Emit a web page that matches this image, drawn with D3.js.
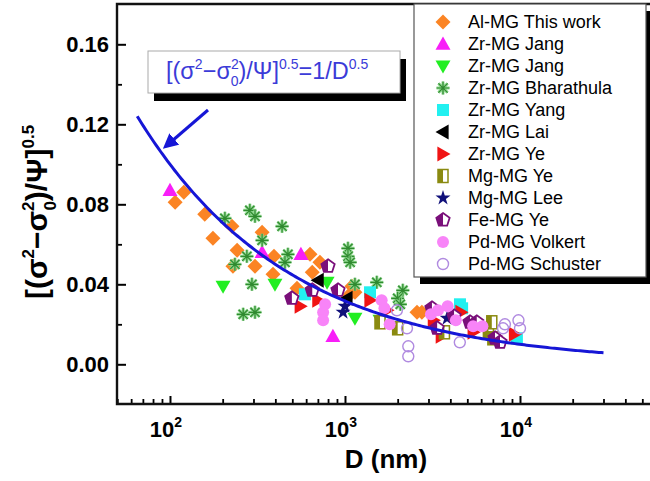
<!DOCTYPE html>
<html>
<head>
<meta charset="utf-8">
<script src="https://cdn.jsdelivr.net/npm/d3@7"></script>
<style>
  body { margin: 0; background: #fff; }
  svg { display: block; font-family: "Liberation Sans", Arial, sans-serif; }
</style>
</head>
<body>
<div id="chart"></div>
<script>
// ---- data: [D (nm), value] ----
const alThisWork = [[107,0.081],[120,0.086],[158,0.075],[176,0.063],[226,0.069],[336,0.066],[242,0.057],[229,0.049],[306,0.049],[393,0.054],[388,0.045],[532,0.038],[631,0.055],[719,0.051],[650,0.046],[1096,0.039],[1140,0.036],[1040,0.034],[2580,0.026],[2750,0.026]];
const zrJangUp = [[100,0.087],[336,0.056],[560,0.055],[853,0.014]];
const zrJangDown = [[201,0.039],[398,0.040],[790,0.041],[1140,0.023],[1585,0.022]];
const zrBharathula = [[206,0.073],[286,0.077],[306,0.074],[437,0.069],[336,0.062],[275,0.054],[235,0.050],[294,0.040],[262,0.025],[306,0.026],[472,0.055],[454,0.051],[1040,0.058],[1040,0.054],[1070,0.051],[1140,0.040],[1520,0.041],[2140,0.037],[2000,0.033],[2070,0.030]];
const zrYang = [[590,0.035],[1390,0.036],[4540,0.030],[4670,0.028],[9600,0.013]];
const zrLai = [[702,0.042],[1026,0.033]];
const zrYe = [[555,0.029],[700,0.032],[1390,0.032],[1740,0.027],[3200,0.022],[3550,0.014],[4600,0.026],[5400,0.016],[9300,0.015]];
const mgYe = [[1585,0.021],[2000,0.018],[3700,0.016],[6600,0.016],[6900,0.021],[7000,0.013]];
const mgLee = [[1000,0.029],[975,0.026],[3830,0.023]];
const feYe = [[497,0.033],[650,0.037],[800,0.049],[912,0.037],[3140,0.028],[3360,0.018],[4200,0.024],[5180,0.021],[5660,0.021],[7200,0.013],[7690,0.011]];
const pdVolkert = [[750,0.026],[750,0.022],[770,0.030],[1620,0.032],[1680,0.028],[1800,0.020],[3100,0.025],[3400,0.027],[3860,0.029],[4300,0.022],[5400,0.019],[6100,0.019]];
const pdSchuster = [[1980,0.027],[2260,0.018],[2300,0.009],[2300,0.004],[4530,0.011],[8000,0.018],[8200,0.020],[9800,0.022],[10000,0.018]];

const seriesNames = ["Al-MG This work","Zr-MG Jang","Zr-MG Jang","Zr-MG Bharathula","Zr-MG Yang","Zr-MG Lai","Zr-MG Ye","Mg-MG Ye","Mg-MG Lee","Fe-MG Ye","Pd-MG Volkert","Pd-MG Schuster"];
const seriesData = [alThisWork, zrJangUp, zrJangDown, zrBharathula, zrYang, zrLai, zrYe, mgYe, mgLee, feYe, pdVolkert, pdSchuster];
const yTicks = [0, 0.04, 0.08, 0.12, 0.16];
const yMinor = [0.02, 0.06, 0.10, 0.14];
const xMajor = [100, 1000, 10000];
const fitRange = [65, 30000]; // 1/D^0.5 curve

// ---- layout ----
const width = 650, height = 481;
const plotL = 117, plotT = 4, plotB = 404, plotR = 655;

const svg = d3.select("#chart").append("svg")
  .attr("width", width).attr("height", height);

const x = d3.scaleLog().domain([50, 1e5]).range([117.3, 695]);
const y = d3.scaleLinear().domain([-0.02, 0.18]).range([404.3, 4.3]);

// ---- markers ----
const styles = [
  {shape: "diamond", fill: "#fb8424"},
  {shape: "up", fill: "#f81ef8"},
  {shape: "down", fill: "#22ee22"},
  {shape: "asterisk", fill: "#2f8a2f"},
  {shape: "square", fill: "#22f0f0"},
  {shape: "left", fill: "#000000"},
  {shape: "right", fill: "#f01414"},
  {shape: "halfsquare", fill: "#8a8a10"},
  {shape: "star", fill: "#10107a"},
  {shape: "pentagon", fill: "#7a0f7a"},
  {shape: "circle", fill: "#f884f8"},
  {shape: "hollow", fill: "#b08ae0"}
];

function marker(g, st) {
  const r = 7.5;
  switch (st.shape) {
    case "diamond":
      g.append("path").attr("d", `M0,${-r}L${r},0L0,${r}L${-r},0Z`).attr("fill", st.fill); break;
    case "up":
      g.append("path").attr("d", `M0,${-r}L${r},${r*0.75}L${-r},${r*0.75}Z`).attr("fill", st.fill); break;
    case "down":
      g.append("path").attr("d", `M0,${r}L${r},${-r*0.75}L${-r},${-r*0.75}Z`).attr("fill", st.fill); break;
    case "left":
      g.append("path").attr("d", `M${-r},0L${r*0.75},${-r}L${r*0.75},${r}Z`).attr("fill", st.fill); break;
    case "right":
      g.append("path").attr("d", `M${r},0L${-r*0.75},${-r}L${-r*0.75},${r}Z`).attr("fill", st.fill); break;
    case "square":
      g.append("rect").attr("x", -6).attr("y", -6).attr("width", 12).attr("height", 12).attr("fill", st.fill); break;
    case "halfsquare":
      g.append("rect").attr("x", -5).attr("y", -6.5).attr("width", 10).attr("height", 13)
        .attr("fill", "#fff").attr("stroke", st.fill).attr("stroke-width", 1.5);
      g.append("rect").attr("x", -5).attr("y", -6.5).attr("width", 5).attr("height", 13).attr("fill", st.fill); break;
    case "star":
      g.append("path").attr("d", d3.symbol(d3.symbolStar, 70)()).attr("fill", st.fill); break;
    case "pentagon": {
      const p = d3.range(5).map(k => {
        const a = -Math.PI / 2 + k * 2 * Math.PI / 5;
        return [7 * Math.cos(a), 7 * Math.sin(a)];
      });
      g.append("path").attr("d", "M" + p.join("L") + "Z")
        .attr("fill", "#fff").attr("stroke", st.fill).attr("stroke-width", 1.8);
      g.append("path").attr("d", `M0,${p[0][1]}L0,${p[3][1]}L${p[3][0]},${p[3][1]}L${p[4][0]},${p[4][1]}Z`)
        .attr("fill", st.fill);
      break;
    }
    case "asterisk": {
      const arms = [0, 45, 90, 135].map(a => {
        const c = Math.cos(a * Math.PI / 180) * 6.5, s = Math.sin(a * Math.PI / 180) * 6.5;
        return `M${-c},${-s}L${c},${s}`;
      }).join("");
      g.append("path").attr("d", arms).attr("stroke", "#8fd88f").attr("stroke-width", 3);
      g.append("path").attr("d", arms).attr("stroke", st.fill).attr("stroke-width", 1.2);
      break;
    }
    case "circle":
      g.append("circle").attr("r", 6).attr("fill", st.fill); break;
    case "hollow":
      g.append("circle").attr("r", 5.5).attr("fill", "none").attr("stroke", st.fill).attr("stroke-width", 1.4); break;
  }
}

// ---- data points ----
seriesData.forEach((pts, i) => {
  svg.append("g").selectAll("g")
    .data(pts)
    .join("g")
    .attr("transform", d => `translate(${x(d[0])},${y(d[1])})`)
    .each(function() { marker(d3.select(this), styles[i]); });
});

// ---- fit curve ----
const curvePts = d3.range(0, 201).map(i => {
  const lg = Math.log10(fitRange[0]) + i / 200 * (Math.log10(fitRange[1]) - Math.log10(fitRange[0]));
  return Math.pow(10, lg);
});
svg.append("path")
  .datum(curvePts)
  .attr("d", d3.line().x(d => x(d)).y(d => y(1 / Math.sqrt(d))))
  .attr("fill", "none")
  .attr("stroke", "#1616d6")
  .attr("stroke-width", 3);

// ---- axes (ticks inward) ----
const xMinorVals = [];
[10, 100, 1000, 10000].forEach(b => d3.range(2, 10).forEach(k => { if (b * k >= 50) xMinorVals.push(b * k); }));

svg.append("g").attr("transform", `translate(0,${plotB})`)
  .call(d3.axisBottom(x).tickValues(xMajor.concat([1e5])).tickSize(-8).tickSizeOuter(0).tickFormat(""))
  .call(g => g.select(".domain").remove())
  .call(g => g.selectAll("line").attr("stroke", "#000").attr("stroke-width", 2));
svg.append("g").attr("transform", `translate(0,${plotB})`)
  .call(d3.axisBottom(x).tickValues(xMinorVals).tickSize(-5).tickSizeOuter(0).tickFormat(""))
  .call(g => g.select(".domain").remove())
  .call(g => g.selectAll("line").attr("stroke", "#000").attr("stroke-width", 1.8));

svg.append("g").attr("transform", `translate(${plotL},0)`)
  .call(d3.axisLeft(y).tickValues(yTicks).tickSize(-9).tickSizeOuter(0).tickFormat(""))
  .call(g => g.select(".domain").remove())
  .call(g => g.selectAll("line").attr("stroke", "#000").attr("stroke-width", 2));
svg.append("g").attr("transform", `translate(${plotL},0)`)
  .call(d3.axisLeft(y).tickValues(yMinor).tickSize(-5).tickSizeOuter(0).tickFormat(""))
  .call(g => g.select(".domain").remove())
  .call(g => g.selectAll("line").attr("stroke", "#000").attr("stroke-width", 1.8));

// frame
svg.append("path")
  .attr("d", `M${plotR},${plotT}H${plotL}V${plotB}H${plotR}`)
  .attr("fill", "none").attr("stroke", "#111").attr("stroke-width", 2.4);

// y tick labels
svg.append("g").selectAll("text")
  .data(yTicks).join("text")
  .attr("x", 109).attr("y", d => y(d)).attr("dy", "0.36em")
  .attr("text-anchor", "end")
  .attr("font-size", 22).attr("font-weight", "bold")
  .text(d => d3.format(".2f")(d));

// x tick labels 10^n
const xl = svg.append("g").selectAll("text")
  .data(xMajor).join("text")
  .attr("x", d => x(d) - 4).attr("y", 437)
  .attr("text-anchor", "middle")
  .attr("font-size", 22).attr("font-weight", "bold");
xl.append("tspan").text("10");
xl.append("tspan").attr("dy", -10).attr("font-size", 14).text(d => Math.round(Math.log10(d)));

svg.append("text")
  .attr("x", 386).attr("y", 468)
  .attr("text-anchor", "middle")
  .attr("font-size", 26).attr("font-weight", "bold")
  .text("D (nm)");

// rich text helper: parts [text, dy, size, dx]
function rich(t, parts) {
  parts.forEach(([s, dy, fs, dx]) => {
    const ts = t.append("tspan").text(s);
    if (dy) ts.attr("dy", dy);
    if (dx) ts.attr("dx", dx);
    if (fs) ts.attr("font-size", fs);
  });
}

// y axis label (rotated)
const yl = svg.append("text")
  .attr("transform", "translate(47,212) rotate(-90)")
  .attr("text-anchor", "middle")
  .attr("font-size", 30).attr("font-weight", "bold");
rich(yl, [["[(σ"], ["2", -13, 17], ["−σ", 13], ["2", -13, 17], ["0", 22, 17, -9], [")/Ψ]", -9], ["0.5", -13, 17]]);

// ---- annotation box + arrow ----
svg.append("rect").attr("x", 154).attr("y", 59).attr("width", 252).attr("height", 42).attr("fill", "#000");
svg.append("rect").attr("x", 148).attr("y", 51).attr("width", 252).attr("height", 42)
  .attr("fill", "#fff").attr("stroke", "#aaa").attr("stroke-width", 1);
const ann = svg.append("text")
  .attr("x", 166).attr("y", 79)
  .attr("font-size", 23.5).attr("fill", "#3b3bd8");
rich(ann, [["[(σ"], ["2", -10, 14], ["−σ", 10], ["2", -10, 14], ["0", 17, 14, -8], [")/Ψ]", -7], ["0.5", -10, 14], ["=1/D", 10], ["0.5", -10, 14]]);

svg.append("defs").append("marker")
  .attr("id", "ah").attr("viewBox", "0 0 10 10").attr("refX", 2).attr("refY", 5)
  .attr("markerWidth", 5).attr("markerHeight", 5).attr("orient", "auto")
  .append("path").attr("d", "M0,0L10,5L0,10Z").attr("fill", "#1616d6");
svg.append("line")
  .attr("x1", 208).attr("y1", 110).attr("x2", 172).attr("y2", 141)
  .attr("stroke", "#1616d6").attr("stroke-width", 3)
  .attr("marker-end", "url(#ah)");

// ---- legend ----
const lgX = 414, lgW = 232, lgH = 273;
svg.append("rect").attr("x", lgX + 6).attr("y", plotT + 7).attr("width", lgW).attr("height", lgH).attr("fill", "#000");
svg.append("rect").attr("x", lgX).attr("y", plotT).attr("width", lgW).attr("height", lgH)
  .attr("fill", "#fff").attr("stroke", "#555").attr("stroke-width", 1.2);
const lg = svg.append("g").selectAll("g")
  .data(seriesNames).join("g")
  .attr("transform", (d, i) => `translate(${lgX + 29},${22 + i * 22})`);
lg.each(function(d, i) { marker(d3.select(this), styles[i]); });
lg.append("text").attr("x", 25).attr("dy", "0.36em")
  .attr("font-size", 18).attr("fill", "#000")
  .text(d => d);
</script>
</body>
</html>
